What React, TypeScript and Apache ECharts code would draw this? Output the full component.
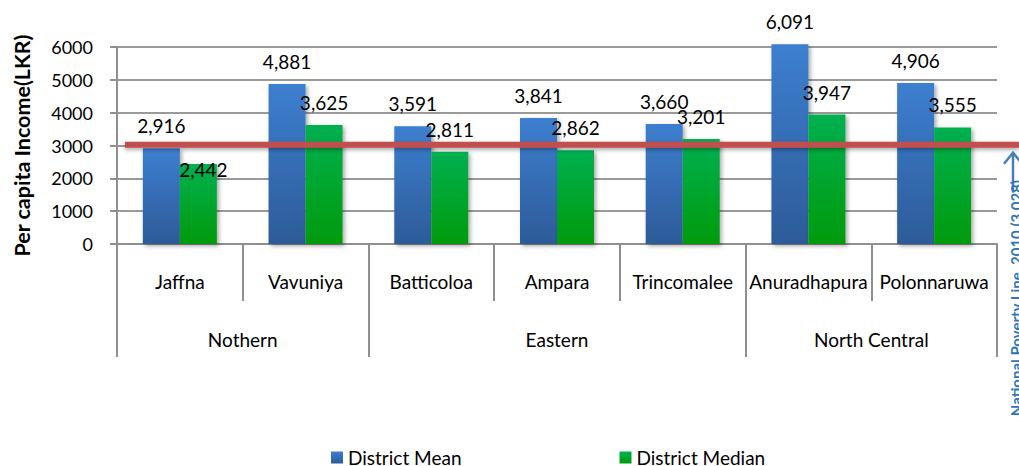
import React, { useEffect, useRef } from "react";
import * as echarts from "echarts";

const districts = ["Jaffna", "Vavuniya", "Batticoloa", "Ampara", "Trincomalee", "Anuradhapura", "Polonnaruwa"];
const districtMean = [2916, 4881, 3591, 3841, 3660, 6091, 4906];
const districtMedian = [2442, 3625, 2811, 2862, 3201, 3947, 3555];
const regions = ["Nothern", "Eastern", "North Central"];
const regionDistrictCounts = [2, 3, 2];
const yMin = 0;
const yMax = 6000;
const yInterval = 1000;
const povertyLine = 3028;
const povertyLabel = "National Poverty Line, 2010 (3,028)";
const seriesNames = ["District Mean", "District Median"];

const FONT = "Lato, 'Open Sans', sans-serif";

export default function App() {
  const ref = useRef<HTMLDivElement>(null);

  useEffect(() => {
    document.body.style.margin = "0";
    document.body.style.overflow = "hidden";
    if (!ref.current) return;
    const chart = echarts.init(ref.current, null, { renderer: "svg" });

    const boundaries: number[] = [0];
    regionDistrictCounts.forEach((c) => boundaries.push(boundaries[boundaries.length - 1] + c));
    const centers = regionDistrictCounts.map((c, i) => boundaries[i] + c / 2);

    const fmt = (v: number) => v.toLocaleString("en-US");
    const gray = "#8f8f8f";

    const blueGrad = new echarts.graphic.LinearGradient(0, 0, 0, 1, [
      { offset: 0, color: "#3d7fd0" },
      { offset: 1, color: "#2d5b98" },
    ]);
    const greenGrad = new echarts.graphic.LinearGradient(0, 0, 0, 1, [
      { offset: 0, color: "#00b050" },
      { offset: 1, color: "#009b0c" },
    ]);

    const labelBase = {
      show: true,
      position: "top" as const,
      distance: 13,
      color: "#000",
      fontFamily: FONT,
      fontSize: 19,
      formatter: (p: any) => fmt(p.value),
    };

    chart.setOption({
      animation: false,
      textStyle: { fontFamily: FONT },
      grid: { left: 117, right: 22, top: 47.2, bottom: 222, containLabel: false },
      legend: {
        data: seriesNames,
        left: 326,
        top: 443,
        itemWidth: 12,
        itemHeight: 12,
        itemGap: 158,
        icon: "rect",
        textStyle: { fontFamily: FONT, fontSize: 19, color: "#000" },
      },
      xAxis: [
        {
          type: "category",
          data: districts,
          boundaryGap: true,
          axisLine: { show: true, lineStyle: { color: gray, width: 2 } },
          axisTick: { show: true, length: 57, lineStyle: { color: gray, width: 2 } },
          axisLabel: { color: "#000", fontFamily: FONT, fontSize: 19, margin: 28, interval: 0 },
          splitLine: { show: false },
        },
        {
          type: "value",
          position: "bottom",
          min: 0,
          max: districts.length,
          axisLine: { show: false },
          splitLine: { show: false },
          axisTick: { show: true, customValues: boundaries, length: 113, lineStyle: { color: gray, width: 2 } },
          axisLabel: {
            customValues: centers,
            formatter: (v: number) => {
              const i = centers.findIndex((c) => Math.abs(c - v) < 1e-6);
              return i >= 0 ? regions[i] : "";
            },
            color: "#000",
            fontFamily: FONT,
            fontSize: 19,
            margin: 86,
          },
        },
      ],
      yAxis: {
        type: "value",
        min: yMin,
        max: yMax,
        interval: yInterval,
        name: "Per capita Income(LKR)",
        nameLocation: "middle",
        nameGap: 84,
        nameTextStyle: { fontFamily: FONT, fontSize: 21.5, fontWeight: "bold", color: "#000" },
        axisLine: { show: true, lineStyle: { color: gray, width: 2 } },
        axisTick: { show: true, length: 7, lineStyle: { color: gray, width: 2 } },
        axisLabel: {
          color: "#000",
          fontFamily: FONT,
          fontSize: 18,
          margin: 24,
          formatter: (v: number) => String(v),
        },
        splitLine: { show: true, lineStyle: { color: "#9a9a9a", width: 2 } },
      },
      series: [
        {
          name: seriesNames[0],
          type: "bar",
          data: districtMean,
          barWidth: 37,
          barGap: "0%",
          clip: false,
          itemStyle: {
            color: blueGrad,
            shadowColor: "rgba(0,0,0,0.35)",
            shadowBlur: 4,
            shadowOffsetX: 2,
            shadowOffsetY: 2,
          },
          label: labelBase,
        },
        {
          name: seriesNames[1],
          type: "bar",
          data: districtMedian.map((v, i) =>
            i === 0 ? { value: v, label: { offset: [5, 28] } } : v
          ),
          barWidth: 37,
          clip: false,
          itemStyle: {
            color: greenGrad,
            shadowColor: "rgba(0,0,0,0.35)",
            shadowBlur: 4,
            shadowOffsetX: 2,
            shadowOffsetY: 2,
          },
          label: labelBase,
        },
      ],
    });

    const py = chart.convertToPixel({ yAxisIndex: 0 }, povertyLine) as number;
    const ax = 1013;
    chart.setOption({
      graphic: [
        {
          type: "rect",
          z: 100,
          shape: { x: 125, y: py - 3, width: 894, height: 6 },
          style: {
            fill: "#c0504d",
            shadowColor: "rgba(0,0,0,0.35)",
            shadowBlur: 4,
            shadowOffsetY: 2,
          },
        },
        {
          type: "line",
          z: 100,
          shape: { x1: ax, y1: py + 8, x2: ax, y2: py + 48 },
          style: { stroke: "#4a7ebb", lineWidth: 2.5 },
        },
        {
          type: "polyline",
          z: 100,
          shape: { points: [[ax - 9, py + 19], [ax, py + 8], [ax + 9, py + 19]] },
          style: { stroke: "#4a7ebb", lineWidth: 2.5, fill: "none" },
        },
        {
          type: "text",
          z: 100,
          x: 1016,
          y: 180,
          rotation: Math.PI / 2,
          style: {
            text: povertyLabel,
            align: "right",
            verticalAlign: "middle",
            fontFamily: FONT,
            fontSize: 15,
            fontWeight: "bold",
            fill: "#2e75b6",
          },
        },
      ],
    });

    return () => chart.dispose();
  }, []);

  return <div ref={ref} style={{ width: 1019, height: 466 }} />;
}
